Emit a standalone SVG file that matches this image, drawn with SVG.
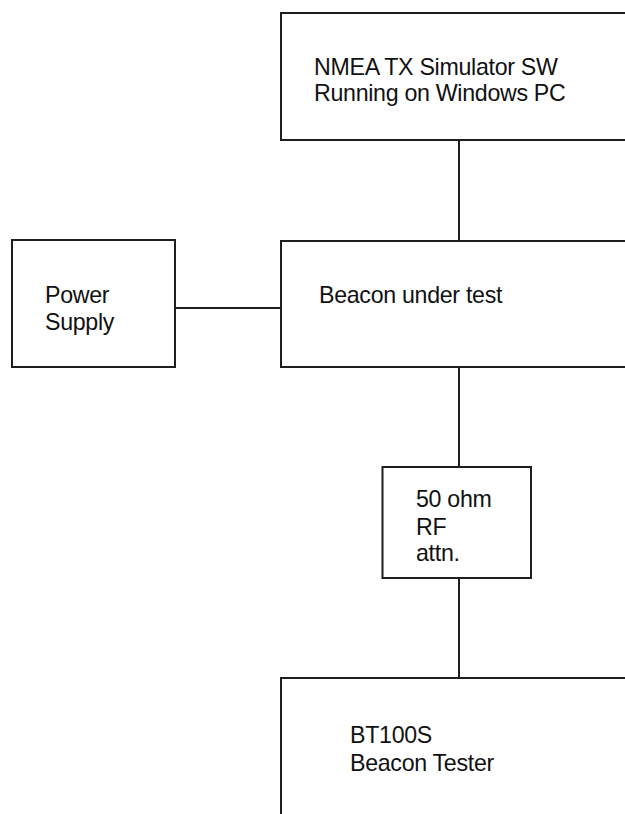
<svg xmlns="http://www.w3.org/2000/svg" width="625" height="814" viewBox="0 0 625 814">
<style>
.box{fill:#fff;stroke:#1e1e1e;stroke-width:2}
.ln{stroke:#1e1e1e;stroke-width:2;fill:none}
text{font-family:"Liberation Sans",Arial,sans-serif;font-size:23.2px;letter-spacing:-0.3px;fill:#111}
</style>
<rect width="625" height="814" fill="#fff"/>
<g id="connectors">
<line class="ln" x1="459" y1="140" x2="459" y2="241"/>
<line class="ln" x1="175" y1="308" x2="281" y2="308"/>
<line class="ln" x1="459" y1="367" x2="459" y2="467"/>
<line class="ln" x1="459" y1="578" x2="459" y2="678"/>
</g>
<g id="nmea">
<rect class="box" x="281" y="13" width="360" height="127"/>
<text x="314" y="75">NMEA TX Simulator SW</text>
<text x="314" y="101">Running on Windows PC</text>
</g>
<g id="power">
<rect class="box" x="12" y="240" width="163" height="127"/>
<text x="45" y="303">Power</text>
<text x="45" y="330">Supply</text>
</g>
<g id="beacon">
<rect class="box" x="281" y="241" width="360" height="126"/>
<text x="319" y="303">Beacon under test</text>
</g>
<g id="attn">
<rect class="box" x="382.5" y="467" width="148.5" height="111"/>
<text x="416" y="507">50 ohm</text>
<text x="416" y="535">RF</text>
<text x="416" y="561">attn.</text>
</g>
<g id="tester">
<rect class="box" x="281" y="678" width="360" height="160"/>
<text x="350" y="743">BT100S</text>
<text x="350" y="771">Beacon Tester</text>
</g>
</svg>
